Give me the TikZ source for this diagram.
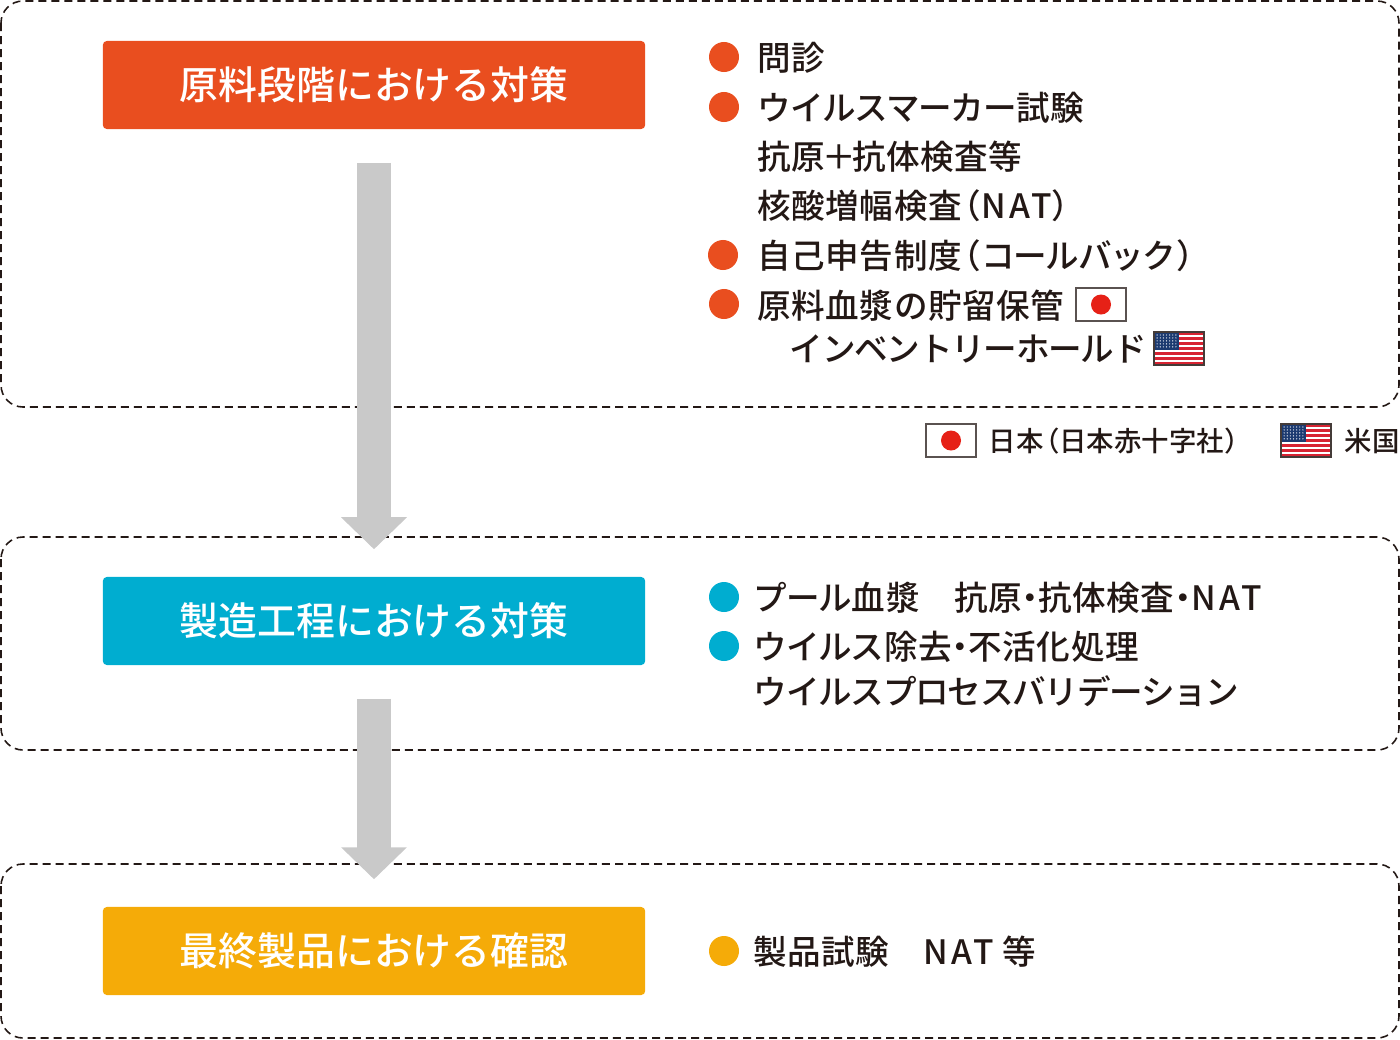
\documentclass[tikz,border=0pt]{standalone}
\usepackage{fontspec}
\setmainfont{Noto Sans CJK JP}[UprightFont=* Medium]
\newfontfamily\itemfont{Noto Sans CJK JP}[UprightFont=* Medium, LetterSpace=1.5]
\newfontfamily\kanafont{Noto Sans CJK JP}[UprightFont=* Medium, LetterSpace=-3.7]
\newfontfamily\latinfont{Noto Sans CJK JP}[UprightFont=* Medium, LetterSpace=10]
\newcommand{\lparen}{\kern-.42em（}
\newcommand{\rparen}{）\kern-.3em}
\newcommand{\nakaten}{\kern-.25em・\kern-.25em}
\newcommand{\natname}{{\latinfont NAT}}
\definecolor{RawColor}{RGB}{233,78,31}
\definecolor{ProcessColor}{RGB}{0,173,208}
\definecolor{ProductColor}{RGB}{245,171,8}
\definecolor{ArrowColor}{RGB}{201,201,201}
\definecolor{FrameColor}{RGB}{35,24,21}
\definecolor{FlagRed}{RGB}{230,33,23}
\definecolor{FlagNavy}{RGB}{28,58,112}
\definecolor{StripeRed}{RGB}{215,35,50}
\usetikzlibrary{positioning, arrows.meta}
\tikzset{
  stagebox/.style={rectangle, rounded corners=0.4mm, minimum width=5.42cm, minimum height=0.88cm, inner sep=0pt, text=white, font=\fontsize{11.05}{13}\selectfont},
  frame/.style={draw=FrameColor, line width=0.45pt, dash pattern=on 0.08cm off 0.05cm, rounded corners=0.22cm},
  flow/.style={draw=ArrowColor, line width=0.33cm, -{Triangle[length=0.32cm,width=0.64cm]}},
  bullet/.style={circle, minimum size=0.3cm, inner sep=0pt},
  item/.style={anchor=west, inner sep=0pt, text=FrameColor, font=\fontsize{9.55}{12}\selectfont\itemfont},
  note/.style={anchor=west, inner sep=0pt, text=FrameColor, font=\fontsize{7.8}{10}\selectfont},
  pics/jpflag/.style={code={
    \draw[draw=FrameColor!75, line width=0.35pt, fill=white] (0,0) rectangle (50,33);
    \fill[FlagRed] (25,16.5) circle (10);
  }},
  pics/usflag/.style={code={
    \fill[white] (0,0) rectangle (50,33);
    \foreach \i in {0,2,...,12} \fill[StripeRed] (0,{\i*33/13}) rectangle (50,{(\i+1)*33/13});
    \fill[FlagNavy] (0,0) rectangle (25,{7*33/13});
    \foreach \r in {1,...,5} \foreach \c in {1,...,7} \fill[white!85!FlagNavy] ({\c*25/8},{\r*17.8/6}) circle (0.7);
    \draw[draw=FrameColor!85, line width=0.35pt] (0,0) rectangle (50,33);
  }}
}
\begin{document}
\begin{tikzpicture}[x=0.01cm, y=-0.01cm]
  \useasboundingbox (0,0) rectangle (1400,1039);

  % Dashed frames
  \draw[frame] (1,1) rectangle (1399,407);
  \draw[frame] (1,537) rectangle (1399,750);
  \draw[frame] (1,864) rectangle (1399,1038);

  % Stages
  \node[stagebox, fill=RawColor] (raw) at (374,85) {原料段階における対策};
  \node[stagebox, fill=ProcessColor] (process) at (374,621) {製造工程における対策};
  \node[stagebox, fill=ProductColor] (product) at (374,951) {最終製品における確認};

  % Arrows
  \draw[flow, shorten <=0.33cm, shorten >=0.27cm] (raw) -- (process);
  \draw[flow, shorten <=0.33cm, shorten >=0.27cm] (process) -- (product);

  % Raw material items
  \node[bullet, fill=RawColor] (rawa) at (724,57) {};
  \node[bullet, fill=RawColor] (rawb) at (724,107) {};
  \node[bullet, fill=RawColor] (rawc) at (723,255) {};
  \node[bullet, fill=RawColor] (rawd) at (724,304) {};
  \node[item] (interview) at (757,58) {問診};
  \node[item] (marker) at (757,108) {{\kanafont ウイルスマーカー}試験};
  \node[item] (antigen) at (757,157) {抗原\kern-.1em＋\kern-.1em 抗体検査等};
  \node[item] (nat) at (757,206) {核酸増幅検査\lparen\natname\rparen};
  \node[item] (callback) at (757,256) {自己申告制度\lparen{\kanafont コールバック}\rparen};
  \node[item] (storage) at (757,306) {原料血漿の貯留保管};
  \node[item] (hold) at (789,349) {\kanafont インベントリーホールド};
  \pic at (1076,288) {jpflag};
  \pic at (1154,332) {usflag};

  % Legend
  \pic at (926,424) {jpflag};
  \node[note] (japan) at (988,441) {日本\lparen 日本赤十字社\rparen};
  \pic at (1281,424) {usflag};
  \node[note] (usa) at (1344,441) {米国};

  % Process items
  \node[bullet, fill=ProcessColor] (proca) at (724,597) {};
  \node[bullet, fill=ProcessColor] (procb) at (724,646) {};
  \node[item] (pool) at (753,598) {{\kanafont プール}血漿　抗原\nakaten 抗体検査\nakaten\natname};
  \node[item] (removal) at (753,647) {{\kanafont ウイルス}除去\nakaten 不活化処理};
  \node[item] (validation) at (753,691) {\kanafont ウイルスプロセスバリデーション};

  % Product items
  \node[bullet, fill=ProductColor] (proda) at (724,951) {};
  \node[item] (test) at (753,952) {製品試験　\natname{} 等};
\end{tikzpicture}
\end{document}
